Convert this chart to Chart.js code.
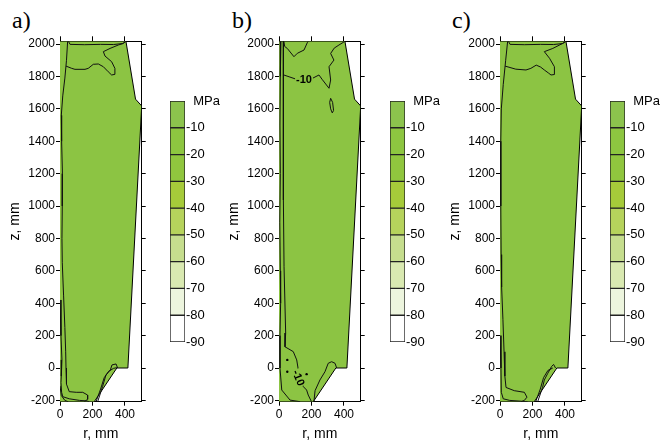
<!DOCTYPE html>
<html>
<head>
<meta charset="utf-8">
<script src="https://cdn.jsdelivr.net/npm/chart.js@4.4.1/dist/chart.umd.min.js"></script>
<style>
  html, body { margin: 0; padding: 0; background: #fff; }
  #wrap { position: relative; width: 672px; height: 446px; overflow: hidden; }
  canvas { position: absolute; top: 0; }
  .tag { position: absolute; top: 8px; font: 24px "Liberation Serif", serif; line-height: 24px; color: #000; }
</style>
</head>
<body>
<div id="wrap">
  <div class="tag" style="left:12px">a)</div>
  <div class="tag" style="left:232px">b)</div>
  <div class="tag" style="left:452px">c)</div>
  <canvas id="panelA" width="152" height="446" style="left:0px"></canvas>
  <canvas id="barA" width="60" height="446" style="left:160px"></canvas>
  <canvas id="panelB" width="152" height="446" style="left:219px"></canvas>
  <canvas id="barB" width="60" height="446" style="left:380px"></canvas>
  <canvas id="panelC" width="152" height="446" style="left:440px"></canvas>
  <canvas id="barC" width="60" height="446" style="left:600px"></canvas>
</div>
<script>
// axes
const rTicks = [0, 200, 400];
const zTicks = [-200, 0, 200, 400, 600, 800, 1000, 1200, 1400, 1600, 1800, 2000];
const rMin = 0, rMax = 503, zMin = -208, zMax = 2017;

// colour scale (MPa)
const levels = [0, -10, -20, -30, -40, -50, -60, -70, -80, -90];
const levelColors = ['#8cc34d', '#8dc640', '#90c63e', '#a6cb3a', '#b6d35c', '#c6de8e', '#d9e9b1', '#edf5de', '#ffffff'];

// outer contour of the section, right edge (r, z)
const outline = [[211, -208], [350, 0], [418, 0], [503, 1618], [465, 1660], [406, 2017]];

// isolines, panel a)
const aLeft = [[47, 2017], [40, 1900], [30, 1790], [17, 1680], [8, 1560], [10, 1400], [15, 1200], [14, 1000], [12, 800], [14, 650], [22, 450], [30, 250], [35, 100], [37, 0], [40, -100], [57, -146], [100, -150], [140, -150], [170, -167], [170, -193], [150, -208]];
const aTop = [[37, 1864], [72, 1850], [92, 1844], [154, 1844], [174, 1850], [205, 1875], [236, 1877], [267, 1860], [297, 1829], [318, 1809], [338, 1813], [338, 1850], [318, 1891], [277, 1926], [267, 1953], [308, 1973], [359, 1994], [390, 2004], [406, 2017]];
const aStrip = [[52, 2017], [62, 1998], [150, 1996], [250, 1998], [330, 1997], [385, 2003], [406, 2017]];
const aInner = [[0, 420], [6, 200], [12, 50], [8, -50], [6, -90], [10, -150], [17, -177], [57, -190], [120, -200], [165, -203], [180, -208]];
const aCorner = [[0, -110], [8, -170], [30, -200], [50, -208]];
const aNotch1 = [[232, -208], [262, -115], [283, -43], [310, -12], [320, 19], [345, 25], [355, 0]];
const aNotch2 = [[222, -208], [250, -130], [272, -60], [300, -20], [330, -2], [350, 2]];

// isolines, panel b)
const bLeft = [[27, 2017], [27, 1880], [27, 1800], [27, 1450], [27, 1037], [31, 625], [41, 216], [37, 131], [88, 101], [109, 50], [119, -12], [125, -50], [150, -115], [170, -136], [180, -167], [200, -208]];
const bTop = [[30, 2017], [35, 1985], [51, 1973], [92, 1922], [113, 1943], [154, 1963], [174, 2008], [180, 2017]];
const bMid = [[27, 1810], [62, 1798], [100, 1785], [154, 1778], [205, 1788], [246, 1809], [267, 1780], [308, 1727], [318, 1778], [308, 1860], [338, 1901], [318, 1942], [340, 1975], [369, 1994], [395, 2010], [406, 2017]];
const bLoop = [[318, 1665], [330, 1640], [336, 1590], [328, 1575], [318, 1600], [312, 1640], [318, 1665]];
const bEdge = [[12, 2017], [8, 1800], [6, 1500], [8, 1200], [5, 900], [8, 600], [10, 400], [6, 200], [6, 0], [17, -136], [68, -198], [130, -208]];
const bNotch = [[215, -208], [222, -140], [252, -74], [283, -23], [303, 29], [324, 39], [345, 29], [355, 0]];
const bDots = [[51, 50], [51, -23], [170, -38]];
const bLabels = [{ r: 154, z: 1779, text: '-10', angle: 0 }, { r: 117, z: -62, text: '-10', angle: 68 }];

// isolines, panel c)
const cLeft = [[47, 2017], [35, 1900], [20, 1750], [8, 1600], [5, 1400], [5, 1000], [7, 700], [10, 500], [18, 300], [25, 100], [30, -50], [37, -120], [88, -140], [150, -150], [166, -180], [150, -200], [130, -208]];
const cTop = [[31, 1864], [97, 1845], [160, 1840], [190, 1850], [223, 1870], [250, 1858], [273, 1840], [300, 1820], [314, 1809], [335, 1812], [335, 1860], [305, 1912], [273, 1953], [325, 1973], [386, 2004], [406, 2017]];
const cStrip = [[52, 2017], [62, 1998], [150, 1996], [250, 1998], [330, 1997], [385, 2003], [406, 2017]];
const cInner = [[0, 200], [6, 0], [8, -150], [20, -190], [60, -200], [130, -205], [170, -208]];
const cNotch1 = [[232, -208], [262, -120], [273, -74], [294, -33], [318, 10], [330, 22], [342, 0]];
const cNotch2 = [[220, -208], [248, -130], [268, -60], [295, -15], [325, 0]];

const fillGreen = '#8cc443';
const sans = '"Liberation Sans", Arial, sans-serif';
const narrow = '"Liberation Sans Narrow", "Liberation Sans", Arial, sans-serif';

const pts = arr => arr.map(([r, z]) => ({ x: r, y: z }));

const contourLabels = {
  id: 'contourLabels',
  afterDatasetsDraw(chart, args, opts) {
    const { ctx, scales: { x, y } } = chart;
    (opts.items || []).forEach(l => {
      ctx.save();
      ctx.translate(x.getPixelForValue(l.r), y.getPixelForValue(l.z));
      ctx.rotate(l.angle * Math.PI / 180);
      ctx.font = 'bold 11px ' + sans;
      const w = ctx.measureText(l.text).width;
      ctx.fillStyle = fillGreen;
      ctx.fillRect(-w / 2 - 1, -5, w + 2, 10);
      ctx.fillStyle = '#000';
      ctx.textAlign = 'center';
      ctx.textBaseline = 'middle';
      ctx.fillText(l.text, 0, 0);
      ctx.restore();
    });
  }
};

function fixTicks(list) {
  return axis => { axis.ticks = list.map(v => ({ value: v })); };
}

function makePanel(id, lines, dots, labels) {
  // the filled section goes underneath (higher order is drawn first)
  const datasets = [{
    data: pts(outline),
    order: 10,
    showLine: true,
    fill: 'origin',
    backgroundColor: fillGreen,
    borderColor: '#000',
    borderWidth: 1,
    pointRadius: 0,
    xAxisID: 'x',
    yAxisID: 'y'
  }];
  lines.forEach(l => datasets.push({
    data: pts(l), order: 1, showLine: true, fill: false, borderColor: '#111', borderWidth: 1,
    pointRadius: 0, xAxisID: 'x', yAxisID: 'y'
  }));
  if (dots.length) datasets.push({
    data: pts(dots), order: 0, showLine: false, pointRadius: 1.2, pointBackgroundColor: '#000',
    pointBorderWidth: 0, xAxisID: 'x', yAxisID: 'y'
  });

  const tickGrid = len => ({ drawOnChartArea: false, drawTicks: true, tickLength: len, color: '#000', lineWidth: 1 });
  const border = { display: true, color: '#000', width: 1 };
  const plain = v => String(v);

  new Chart(document.getElementById(id), {
    type: 'scatter',
    data: { datasets },
    plugins: [contourLabels],
    options: {
      responsive: false,
      animation: false,
      indexAxis: 'y',
      layout: { padding: 0 },
      plugins: {
        legend: { display: false },
        tooltip: { enabled: false },
        contourLabels: { items: labels }
      },
      scales: {
        x: {
          type: 'linear', position: 'bottom', min: rMin, max: rMax,
          afterBuildTicks: fixTicks(rTicks),
          afterFit: s => { s.height = 44.3; },
          ticks: { color: '#000', font: { family: sans, size: 12 }, padding: 2, maxRotation: 0, callback: plain },
          grid: tickGrid(4), border,
          title: { display: true, text: 'r, mm', color: '#000', font: { family: sans, size: 14 }, padding: { top: 0, bottom: 3 } }
        },
        y: {
          type: 'linear', position: 'left', min: zMin, max: zMax,
          afterBuildTicks: fixTicks(zTicks),
          afterFit: s => { s.width = 60; },
          ticks: { color: '#000', font: { family: sans, size: 12 }, padding: 1, callback: plain },
          grid: tickGrid(4), border,
          title: { display: true, text: 'z, mm', color: '#000', font: { family: sans, size: 14 }, padding: { top: 7, bottom: 0 } }
        },
        x2: {
          type: 'linear', position: 'top', min: rMin, max: rMax,
          afterBuildTicks: fixTicks(rTicks),
          afterFit: s => { s.height = 41.3; },
          ticks: { display: false },
          grid: tickGrid(5), border
        },
        y2: {
          type: 'linear', position: 'right', min: zMin, max: zMax,
          afterBuildTicks: fixTicks(zTicks),
          afterFit: s => { s.width = 10.3; },
          ticks: { display: false },
          grid: tickGrid(4), border
        }
      }
    }
  });
}

function makeBar(id) {
  const datasets = levelColors.map((c, i) => ({
    data: [[levels[i + 1], levels[i]]],
    backgroundColor: c,
    borderColor: '#222',
    borderWidth: 1,
    borderSkipped: false,
    barPercentage: 1,
    categoryPercentage: 1,
    grouped: false
  }));
  new Chart(document.getElementById(id), {
    type: 'bar',
    data: { labels: [''], datasets },
    options: {
      responsive: false,
      animation: false,
      layout: { padding: { left: 10, top: 101, bottom: 104, right: 0 } },
      plugins: { legend: { display: false }, tooltip: { enabled: false } },
      scales: {
        x: { display: false },
        y: {
          position: 'right', min: levels[levels.length - 1], max: levels[0],
          afterBuildTicks: fixTicks(levels),
          afterFit: s => { s.width = 35; },
          ticks: {
            color: '#000', padding: 1, font: { family: narrow, size: 13 },
            callback: v => (v === 0 ? '  MPa' : String(v))
          },
          grid: { display: false, drawTicks: false },
          border: { display: false }
        }
      }
    }
  });
}

makePanel('panelA', [aLeft, aTop, aStrip, aInner, aCorner, aNotch1, aNotch2], [], []);
makePanel('panelB', [bLeft, bTop, bMid, bLoop, bEdge, bNotch], bDots, bLabels);
makePanel('panelC', [cLeft, cTop, cStrip, cInner, cNotch1, cNotch2], [], []);
makeBar('barA');
makeBar('barB');
makeBar('barC');
</script>
</body>
</html>
